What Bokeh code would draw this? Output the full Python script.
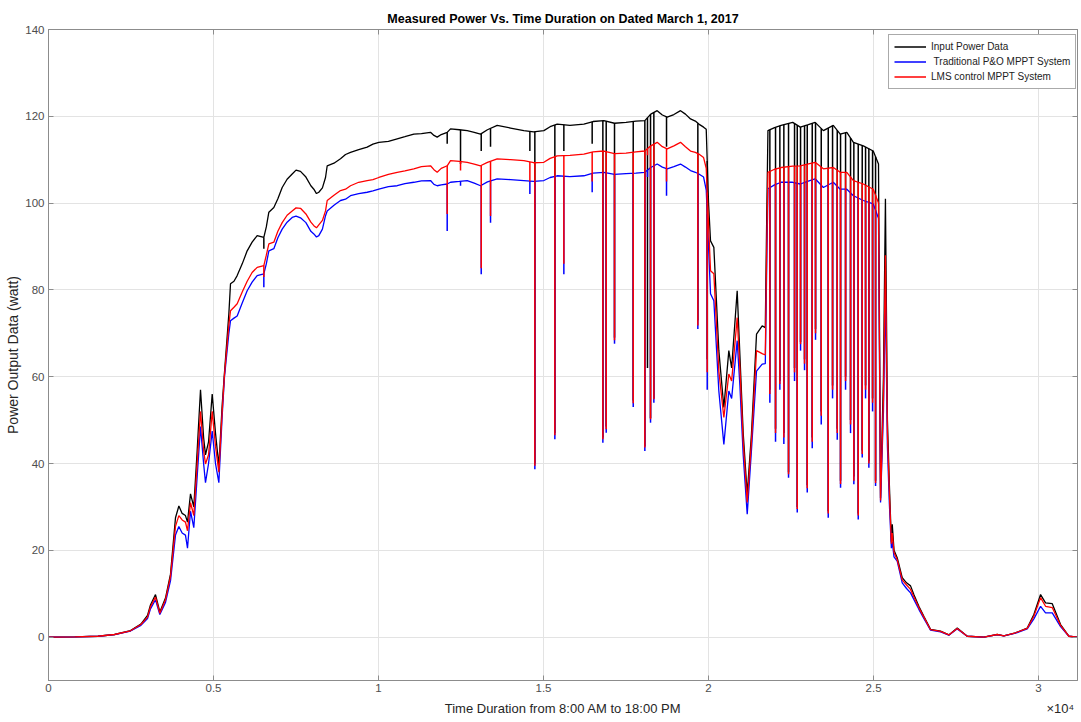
import numpy as np
from bokeh.plotting import figure
from bokeh.models import Range1d, FixedTicker, LinearAxis, Legend, LegendItem
from bokeh.embed import file_html
from bokeh.resources import INLINE

# ---------------- data ----------------
# time samples (s) and power (watt) of the three series
time_s = [0, 800, 1500, 2000, 2485, 2800, 3000, 3090, 3242, 3374, 3545, 3697, 3848, 3950,
          4050, 4150, 4212, 4303, 4403, 4505, 4606, 4700, 4757, 4850, 4960, 5060, 5162,
          5263, 5333, 5465, 5515, 5620, 5717, 5870, 6020, 6170, 6323, 6525, 6600, 6677,
          6828, 6950, 7081, 7230, 7384, 7500, 7636, 7800, 7950, 8040, 8120, 8191, 8300,
          8394, 8445, 8650, 8848, 9000, 9151, 9400, 9656, 9830, 10010, 10300, 10566,
          10800, 11070, 11300, 11576, 11680, 11778, 11900, 12081, 12182, 12450, 12687,
          12900, 13091, 13300, 13596, 14000, 14403, 14700, 15010, 15200, 15414, 15800,
          16222, 16500, 16828, 17150, 17500, 17800, 18070, 18250, 18444, 18600, 18747,
          18950, 19151, 19300, 19454, 19600, 19706, 19850, 19930, 20000, 20060, 20161,
          20312, 20464, 20615, 20700, 20868, 20950, 21050, 21172, 21300, 21454, 21626,
          21720, 21760, 21800, 22000, 22200, 22550, 22780, 23000, 23230, 23480, 23780,
          23990, 24190, 24390, 24690, 24990, 25150, 25212, 25300, 25360, 25420, 25480,
          25540, 25567, 25620, 25717, 25869, 26000, 26121, 26221, 26373, 26524, 26727,
          27030, 27282, 27536, 27839, 28342, 28748, 28948, 29303, 29657, 29858, 30061,
          30212, 30415, 30667, 30918, 31173]

input_power = [0, 0.05, 0.2, 0.6, 1.5, 3.0, 5.0, 7.4, 9.8, 5.8, 9.0, 14.5, 27.5, 30.2,
               28.5, 28.0, 26.5, 33.0, 30.0, 43.0, 57.0, 46.0, 42.0, 45.0, 56.0, 47.0, 39.5,
               53.5, 61.0, 74.5, 81.4, 82.0, 83.3, 86.0, 89.0, 91.0, 92.5, 92.1, 94.5, 97.9,
               99.0, 101.0, 103.6, 105.5, 106.7, 107.6, 107.3, 106.0, 104.0, 103.2, 102.2, 102.5, 103.5,
               105.9, 108.6, 109.2, 110.2, 111.2, 111.7, 112.3, 112.9, 113.6, 114.0, 114.2, 114.8,
               115.3, 115.9, 116.0, 116.3, 115.6, 115.2, 115.8, 116.3, 117.1, 116.9, 116.7,
               116.3, 115.9, 116.9, 117.9, 117.3, 116.7, 116.4, 116.7, 117.6, 118.2, 117.9,
               118.2, 118.8, 119.0, 118.4, 118.6, 118.9, 119.0, 120.5, 121.3, 120.3, 119.8,
               120.4, 121.3, 120.5, 119.4, 118.9, 118.2, 117.5, 117.0, 100.0, 91.3, 89.8,
               66.0, 52.9, 66.0, 62.0, 79.8, 65.0, 47.0, 32.9, 46.7, 69.8, 71.7,
               71.3, 95.0, 116.7, 117.4, 117.9, 118.6, 117.5, 118.0, 118.6, 116.7, 117.9,
               115.9, 116.3, 114.0, 113.2, 112.0, 109.0, 32.0, 60.0, 101.0, 50.0, 35.0,
               22.0, 26.0, 20.0, 18.3, 13.7, 12.5, 11.8, 9.8, 7.1, 4.8, 1.8,
               1.4, 0.5, 2.1, 0.2, 0.0, 0.6, 0.3, 1.0, 2.1, 5.2, 9.8,
               7.9, 7.7, 2.9, 0.2, 0.0]

lms_power = [0, 0.05, 0.2, 0.6, 1.45, 2.9, 4.6, 7.0, 9.2, 5.5, 8.6, 14.0, 25.5, 28.0,
             27.0, 26.5, 24.5, 31.0, 28.0, 40.0, 52.0, 43.0, 39.9, 42.0, 52.0, 44.0, 38.0,
             52.0, 60.5, 72.0, 75.2, 76.0, 76.8, 79.5, 82.0, 84.0, 85.2, 85.6, 88.0, 90.6,
             91.0, 93.5, 95.5, 97.2, 98.2, 98.9, 98.8, 97.5, 95.6, 94.8, 94.3, 95.0, 96.0,
             98.2, 100.6, 101.8, 102.9, 103.2, 104.0, 104.8, 105.2, 105.4, 105.9, 106.6, 107.1,
             107.4, 107.9, 108.4, 108.6, 107.7, 107.1, 108.0, 108.6, 109.8, 109.6, 109.4,
             109.0, 108.6, 109.4, 110.2, 110.0, 109.8, 109.3, 109.4, 110.3, 110.9, 111.0,
             111.3, 111.8, 112.0, 111.4, 111.5, 111.8, 112.0, 113.2, 114.0, 113.0, 112.5,
             113.2, 114.0, 113.0, 112.0, 111.7, 111.3, 110.5, 108.0, 95.0, 84.4, 83.7,
             61.3, 50.6, 60.6, 59.0, 73.6, 62.0, 45.0, 31.0, 45.0, 66.0, 65.3,
             65.0, 88.0, 107.1, 107.8, 108.2, 108.5, 108.6, 109.0, 109.4, 107.9, 108.2,
             107.1, 107.1, 105.2, 104.4, 103.2, 100.0, 31.5, 55.0, 88.0, 47.0, 33.0,
             21.5, 24.0, 19.5, 17.8, 13.2, 12.0, 11.0, 9.3, 6.8, 4.6, 1.7,
             1.3, 0.5, 2.0, 0.2, 0.0, 0.6, 0.3, 1.0, 2.0, 4.8, 9.1,
             7.1, 6.8, 2.7, 0.2, 0.0]

po_power = [0, 0.05, 0.2, 0.55, 1.4, 2.7, 4.3, 6.5, 8.6, 5.2, 8.0, 13.0, 23.5, 25.5,
            24.0, 23.5, 20.5, 29.0, 25.2, 37.0, 48.5, 40.0, 35.6, 40.0, 47.5, 40.0, 35.6,
            51.0, 60.0, 70.0, 72.9, 73.5, 74.0, 77.0, 79.8, 81.8, 83.3, 83.7, 86.0, 89.0,
            89.5, 92.0, 94.0, 95.6, 96.7, 97.0, 96.6, 95.5, 93.5, 92.9, 92.2, 92.5, 94.0,
            97.1, 98.2, 99.5, 100.6, 100.9, 101.7, 102.2, 102.5, 102.8, 103.2, 103.8, 104.0,
            104.5, 104.8, 105.1, 105.2, 104.3, 104.0, 104.2, 104.4, 104.8, 105.0, 105.2,
            104.6, 104.0, 104.9, 105.6, 105.4, 105.2, 105.0, 105.2, 105.9, 106.3, 106.1,
            106.3, 106.9, 107.1, 106.6, 106.8, 106.9, 107.1, 108.2, 109.0, 108.3, 107.9,
            108.4, 109.0, 108.3, 107.5, 107.1, 106.7, 106.0, 103.0, 90.0, 79.1, 77.5,
            56.7, 44.4, 56.7, 55.0, 68.3, 58.0, 42.0, 28.3, 43.0, 61.3, 62.9,
            63.0, 84.0, 103.3, 104.2, 104.8, 104.8, 104.4, 105.0, 105.6, 103.6, 104.8,
            103.2, 103.2, 101.7, 100.6, 99.8, 96.5, 31.0, 52.0, 80.0, 44.0, 30.6,
            20.5, 22.0, 18.5, 17.5, 12.5, 11.2, 10.2, 8.7, 6.4, 4.3, 1.6,
            1.2, 0.45, 1.9, 0.2, 0.0, 0.55, 0.3, 0.9, 1.9, 4.2, 7.1,
            5.6, 5.6, 2.4, 0.2, 0.0]

# short power drops: time and the lowest value reached by each series
dip_time = [6525, 12081, 12485, 13112, 13394, 14586, 14737, 15343, 15616, 16474, 16798,
            16899, 17151, 17718, 18070, 18150, 18242, 18343, 18727, 19676, 19960,
            21858, 22030, 22161, 22282, 22424, 22606, 22688, 22788, 22909, 22991, 23142,
            23242, 23415, 23627, 23758, 23900, 24000, 24152, 24303, 24403, 24536, 24657,
            24758, 24858, 24970, 25061]
dip_input = [89.5, 113.7, 109.0, 112.0, 113.0, 112.0, 40.0, 47.0, 112.0, 113.7, 46.0,
             48.5, 69.0, 54.5, 44.0, 62.0, 50.5, 55.0, 113.0, 73.0, 64.0,
             57, 48, 59, 47, 38, 62, 30, 68, 64, 35, 46,
             71, 52, 29, 58, 48, 36, 60, 50, 37, 28.5, 43,
             58, 40.5, 55, 36]
dip_lms = [83.0, 97.5, 107.5, 85.0, 97.0, 105.0, 39.5, 46.5, 86.0, 105.0, 45.6,
           47.9, 68.4, 53.9, 43.7, 111.0, 50.2, 54.8, 105.0, 71.8, 61.0,
           56, 47, 58.3, 46, 37.5, 61, 29.5, 67.5, 63, 34.3, 45,
           70, 51, 28.5, 57, 47, 35.3, 59, 49, 36, 28, 42.2,
           57, 40, 54, 35.5]
dip_po = [80.6, 93.6, 104.0, 83.6, 95.5, 102.1, 38.7, 45.6, 83.6, 102.5, 44.8,
          47.1, 67.6, 53.0, 42.9, 106.0, 49.4, 54.0, 101.7, 71.0, 57.0,
          54, 45, 57, 44.5, 36.7, 59, 28.7, 66, 61.5, 33.3, 43.5,
          68.5, 49, 27.5, 55, 45.5, 34.4, 57, 47, 35.2, 27.1, 41.4,
          55, 39, 52, 34.8]

series_names = ["Input Power Data", " Traditional P&O MPPT System", "LMS control MPPT System"]
series_colors = ["#000000", "#0000ff", "#ff0000"]

x_ticks = [0, 5000, 10000, 15000, 20000, 25000, 30000]
x_tick_labels = ["0", "0.5", "1", "1.5", "2", "2.5", "3"]
y_ticks = [0, 20, 40, 60, 80, 100, 120, 140]
x_title = "Time Duration from 8:00 AM to 18:00 PM"
x_title_pos = 15590
x_exp_text = "×10⁴"
x_exp_pos = 30660

# ---------------- figure ----------------
FONT = "Liberation Sans"
GRAY = "#8c8c8c"

p = figure(width=1081, height=720, output_backend="svg", toolbar_location=None,
           x_range=Range1d(0, 31180), y_range=Range1d(-10, 140),
           min_border_left=48, min_border_right=4, min_border_top=29, min_border_bottom=40)
p.title.text = "Measured Power Vs. Time Duration on Dated March 1, 2017"
p.title.align = "center"
p.title.text_font = FONT
p.title.text_font_size = "12.5px"
p.title.text_font_style = "bold"
p.title.text_color = "#000000"
p.title.standoff = 8

p.background_fill_color = "white"
p.border_fill_color = "white"
p.outline_line_color = GRAY
p.outline_line_width = 1

p.xaxis.ticker = FixedTicker(ticks=x_ticks)
p.xaxis.major_label_overrides = {t: l for t, l in zip(x_ticks, x_tick_labels)}
p.yaxis.ticker = FixedTicker(ticks=y_ticks)
for ax in (p.xaxis, p.yaxis):
    ax.major_tick_in = 5
    ax.major_tick_out = 0
    ax.minor_tick_line_color = None
    ax.axis_line_color = GRAY
    ax.major_tick_line_color = GRAY
    ax.major_label_text_color = "#4d4d4d"
    ax.major_label_text_font = FONT
    ax.major_label_text_font_size = "11.5px"
    ax.axis_label_text_color = "#262626"
    ax.axis_label_text_font = FONT
    ax.axis_label_text_font_style = "normal"

p.xaxis.major_label_standoff = 3

p.yaxis.axis_label = "Power Output Data (watt)"
p.yaxis.axis_label_text_font_size = "14px"
p.yaxis.major_label_standoff = 4
p.yaxis.axis_label_standoff = 1

# second row below the x tick labels: axis title and the x10^4 multiplier
x_title_axis = LinearAxis(ticker=FixedTicker(ticks=[x_title_pos, x_exp_pos]),
                          major_label_overrides={x_title_pos: x_title, x_exp_pos: x_exp_text},
                          axis_line_color=None, major_tick_line_color=None,
                          minor_tick_line_color=None, major_tick_in=0, major_tick_out=0,
                          major_label_standoff=6, major_label_text_font=FONT,
                          major_label_text_font_size="13px", major_label_text_color="#262626")
p.add_layout(x_title_axis, "below")

# inward ticks on the right and top edges of the box
right_axis = LinearAxis(ticker=FixedTicker(ticks=y_ticks), major_tick_in=5, major_tick_out=0,
                        minor_tick_line_color=None, axis_line_color=GRAY,
                        major_tick_line_color=GRAY, major_label_text_font_size="0px",
                        major_label_standoff=0,
                        major_label_overrides={t: "" for t in y_ticks})
p.add_layout(right_axis, "right")
top_axis = LinearAxis(ticker=FixedTicker(ticks=x_ticks), major_tick_in=5, major_tick_out=0,
                      minor_tick_line_color=None, axis_line_color=GRAY,
                      major_tick_line_color=GRAY, major_label_text_font_size="0px",
                      major_label_standoff=0,
                      major_label_overrides={t: "" for t in x_ticks})
p.add_layout(top_axis, "above")

p.xgrid.grid_line_color = "#e3e3e3"
p.ygrid.grid_line_color = "#e3e3e3"
p.xgrid.ticker = FixedTicker(ticks=x_ticks)
p.ygrid.ticker = FixedTicker(ticks=y_ticks)

# draw order: input (black), P&O (blue), LMS (red) on top
series = [(input_power, dip_input), (po_power, dip_po), (lms_power, dip_lms)]
order_colors = [series_colors[0], series_colors[1], series_colors[2]]
renderers = []
t = np.array(time_s, dtype=float)
for (vals, dips), col in zip(series, order_colors):
    r = p.line(t, vals, line_color=col, line_width=1.3)
    top = np.interp(dip_time, t, np.array(vals, dtype=float))
    p.segment(x0=dip_time, y0=top, x1=dip_time, y1=dips, line_color=col, line_width=1.5)
    renderers.append(r)

legend = Legend(items=[LegendItem(label=series_names[0], renderers=[renderers[0]]),
                       LegendItem(label=series_names[1], renderers=[renderers[1]]),
                       LegendItem(label=series_names[2], renderers=[renderers[2]])],
                location=(840, 591))
legend.label_text_font = FONT
legend.label_text_font_size = "10px"
legend.label_text_color = "#222222"
legend.glyph_width = 32
legend.glyph_height = 13
legend.label_height = 13
legend.label_standoff = 5
legend.spacing = 2
legend.padding = 5
legend.margin = 0
legend.border_line_color = "#555555"
legend.border_line_width = 1
legend.background_fill_color = "white"
legend.background_fill_alpha = 1.0
p.add_layout(legend, "center")

open("out.html", "w").write(file_html(p, INLINE))
